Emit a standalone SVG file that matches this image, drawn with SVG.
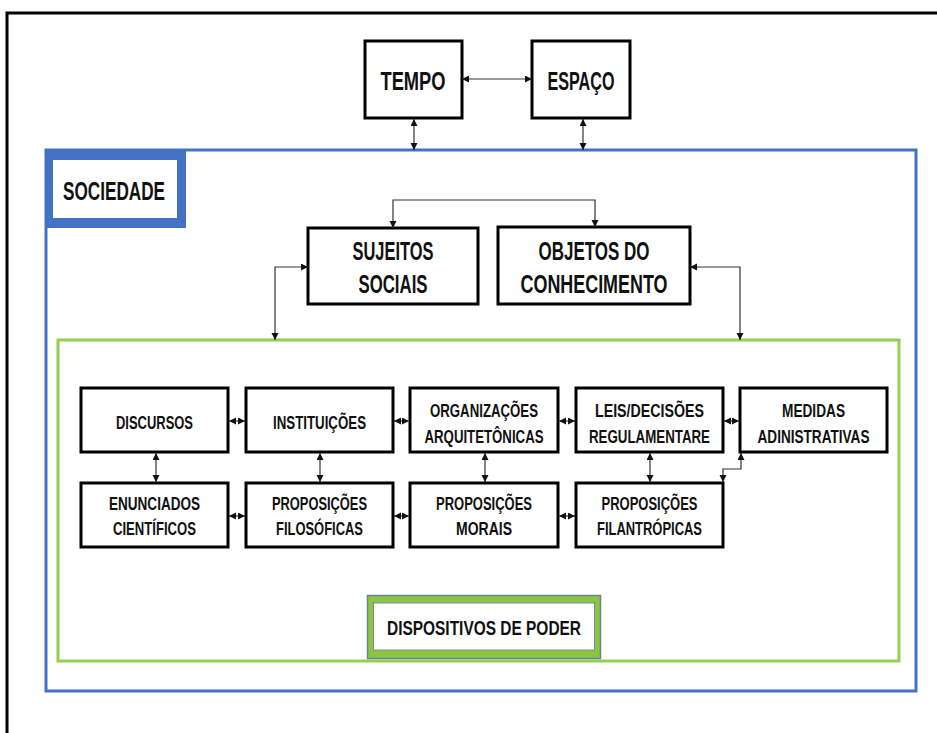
<svg xmlns="http://www.w3.org/2000/svg" width="937" height="733" viewBox="0 0 937 733">
<style>
.box{fill:#fff;stroke:#000;stroke-width:3}
.t{font-family:"Liberation Sans",Arial,sans-serif;font-weight:bold;fill:#111;text-anchor:middle}
.big{font-size:25px}
.sm{font-size:19px}
.c{fill:none;stroke:#333;stroke-width:1.2;marker-start:url(#ah);marker-end:url(#ah)}
</style>
<defs>
<marker id="ah" markerUnits="userSpaceOnUse" markerWidth="8" markerHeight="8" refX="7" refY="3.5" orient="auto-start-reverse">
<path d="M0,0 L7,3.5 L0,7 z" fill="#111"/>
</marker>
</defs>
<rect width="937" height="733" fill="#fff"/>
<path d="M7,733 V13 H937" fill="none" stroke="#000" stroke-width="3"/>

<g id="sociedade-frame">
<rect x="46" y="150" width="870" height="541" fill="none" stroke="#4472C4" stroke-width="3"/>
</g>
<g id="dispositivos-frame">
<rect x="58" y="340" width="841" height="321" fill="none" stroke="#92D050" stroke-width="3"/>
</g>

<g id="sociedade">
<rect x="45" y="150" width="141" height="78" fill="#4472C4"/>
<rect x="53" y="160" width="124" height="58" fill="#fff"/>
<text class="t big" x="114" y="200" textLength="102" lengthAdjust="spacingAndGlyphs">SOCIEDADE</text>
</g>

<g id="tempo">
<rect class="box" x="365" y="41" width="97" height="77"/>
<text class="t big" x="413" y="90" textLength="65" lengthAdjust="spacingAndGlyphs">TEMPO</text>
</g>
<g id="espaco">
<rect class="box" x="532" y="41" width="98" height="77"/>
<text class="t big" x="581" y="90" textLength="67" lengthAdjust="spacingAndGlyphs">ESPAÇO</text>
</g>

<g id="sujeitos">
<rect class="box" x="308" y="228" width="170" height="76"/>
<text class="t big" x="393" y="260" textLength="81" lengthAdjust="spacingAndGlyphs">SUJEITOS</text>
<text class="t big" x="393" y="293" textLength="69" lengthAdjust="spacingAndGlyphs">SOCIAIS</text>
</g>
<g id="objetos">
<rect class="box" x="498" y="227" width="192" height="77"/>
<text class="t big" x="594" y="260" textLength="111" lengthAdjust="spacingAndGlyphs">OBJETOS DO</text>
<text class="t big" x="594" y="293" textLength="147" lengthAdjust="spacingAndGlyphs">CONHECIMENTO</text>
</g>

<g id="discursos">
<rect class="box" x="81" y="388" width="147" height="64"/>
<text class="t sm" x="154.5" y="429" textLength="77" lengthAdjust="spacingAndGlyphs">DISCURSOS</text>
</g>
<g id="instituicoes">
<rect class="box" x="246" y="388" width="147" height="64"/>
<text class="t sm" x="319.5" y="429" textLength="93" lengthAdjust="spacingAndGlyphs">INSTITUIÇÕES</text>
</g>
<g id="organizacoes">
<rect class="box" x="410" y="388" width="148" height="64"/>
<text class="t sm" x="484" y="417" textLength="108" lengthAdjust="spacingAndGlyphs">ORGANIZAÇÕES</text>
<text class="t sm" x="484" y="443" textLength="119" lengthAdjust="spacingAndGlyphs">ARQUITETÔNICAS</text>
</g>
<g id="leis">
<rect class="box" x="576" y="388" width="147" height="64"/>
<text class="t sm" x="649.5" y="417" textLength="109" lengthAdjust="spacingAndGlyphs">LEIS/DECISÕES</text>
<text class="t sm" x="649.5" y="443" textLength="121" lengthAdjust="spacingAndGlyphs">REGULAMENTARE</text>
</g>
<g id="medidas">
<rect class="box" x="740" y="388" width="147" height="64"/>
<text class="t sm" x="813.5" y="417" textLength="63" lengthAdjust="spacingAndGlyphs">MEDIDAS</text>
<text class="t sm" x="813.5" y="443" textLength="112" lengthAdjust="spacingAndGlyphs">ADINISTRATIVAS</text>
</g>

<g id="enunciados">
<rect class="box" x="81" y="483" width="147" height="64"/>
<text class="t sm" x="154.5" y="510" textLength="91" lengthAdjust="spacingAndGlyphs">ENUNCIADOS</text>
<text class="t sm" x="154.5" y="535" textLength="83" lengthAdjust="spacingAndGlyphs">CIENTÍFICOS</text>
</g>
<g id="filosoficas">
<rect class="box" x="246" y="483" width="147" height="64"/>
<text class="t sm" x="319.5" y="510" textLength="95" lengthAdjust="spacingAndGlyphs">PROPOSIÇÕES</text>
<text class="t sm" x="319.5" y="535" textLength="87" lengthAdjust="spacingAndGlyphs">FILOSÓFICAS</text>
</g>
<g id="morais">
<rect class="box" x="410" y="483" width="148" height="64"/>
<text class="t sm" x="484" y="510" textLength="96" lengthAdjust="spacingAndGlyphs">PROPOSIÇÕES</text>
<text class="t sm" x="484" y="535" textLength="56" lengthAdjust="spacingAndGlyphs">MORAIS</text>
</g>
<g id="filantropicas">
<rect class="box" x="576" y="483" width="147" height="64"/>
<text class="t sm" x="649.5" y="510" textLength="96" lengthAdjust="spacingAndGlyphs">PROPOSIÇÕES</text>
<text class="t sm" x="649.5" y="535" textLength="105" lengthAdjust="spacingAndGlyphs">FILANTRÓPICAS</text>
</g>

<g id="dispositivos">
<rect x="367.5" y="595.5" width="233" height="63" fill="#8CC63F" stroke="#6B7FA0" stroke-width="1.5"/>
<rect x="373.5" y="603" width="221" height="47" fill="#fff" stroke="#7A8CB0" stroke-width="1"/>
<text class="t" x="484" y="635" font-size="21" textLength="194" lengthAdjust="spacingAndGlyphs">DISPOSITIVOS DE PODER</text>
</g>

<g id="connectors">
<path class="c" d="M462,79 H532"/>
<path class="c" d="M414,119 V150"/>
<path class="c" d="M583,119 V150"/>
<path class="c" d="M393,228 V200 H595 V227"/>
<path class="c" d="M308,267 H275 V340"/>
<path class="c" d="M690,267 H740 V340"/>
<path class="c" d="M229,421 H245"/>
<path class="c" d="M394,421 H409"/>
<path class="c" d="M559,421 H575"/>
<path class="c" d="M724,421 H739"/>
<path class="c" d="M229,516 H245"/>
<path class="c" d="M394,516 H409"/>
<path class="c" d="M559,516 H575"/>
<path class="c" d="M156,453 V482"/>
<path class="c" d="M320,453 V482"/>
<path class="c" d="M485,453 V482"/>
<path class="c" d="M650,453 V482"/>
<path class="c" d="M723,482 V469 H741 V453"/>
</g>
</svg>
